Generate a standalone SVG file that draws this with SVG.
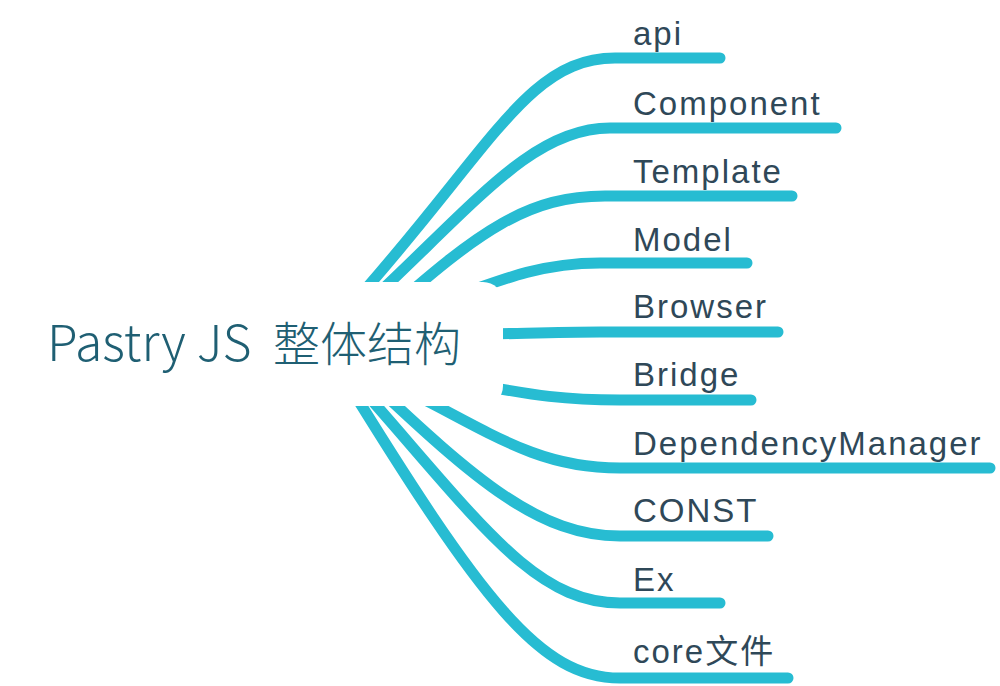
<svg xmlns="http://www.w3.org/2000/svg" width="1000" height="686" viewBox="0 0 1000 686">
<style>
.br{fill:none;stroke:#27bcd2;stroke-width:11;stroke-linecap:round;stroke-linejoin:round}
.lbl{font-family:"Liberation Sans",Arial,"Noto Sans CJK SC",sans-serif;font-size:33px;letter-spacing:2px;fill:#2f4858}
.root{font-family:"Noto Sans CJK SC","Noto Sans",sans-serif;font-size:47px;font-weight:300;fill:#1f5f73}
</style>
<rect width="1000" height="686" fill="#ffffff"/>
<g id="connectors">
<path class="br" d="M340,318 C490,153 525,58 615,58 L720,58"/>
<path class="br" d="M352,318 C472,208 530,128 610,128 L836,128"/>
<path class="br" d="M381,318 C481,228 530,196 605,196 L792,196"/>
<path class="br" d="M440,302 C500,280 540,263 600,263 L747,263"/>
<path class="br" d="M470,334.5 C540,333 560,332 600,332 L778,332"/>
<path class="br" d="M460,382 C520,392 550,400 620,400 L751,400"/>
<path class="br" d="M397,385 C497,437 540,468 620,468 L990,468"/>
<path class="br" d="M367,378 C477,482 540,536 620,536 L768,536"/>
<path class="br" d="M345,370 C475,515 530,603 620,603 L720,603"/>
<path class="br" d="M342,374 C482,601 540,678 620,678 L788,678"/>
</g>
<g id="root">
<rect x="20" y="282" width="483" height="124" rx="20" fill="#ffffff"/>
<text class="root" y="361"><tspan x="47" font-size="50">Pastry JS</tspan><tspan x="273">整体结构</tspan></text>
</g>
<g id="n-api"><text class="lbl" x="633" y="45">api</text></g>
<g id="n-component"><text class="lbl" x="633" y="115">Component</text></g>
<g id="n-template"><text class="lbl" x="633" y="183">Template</text></g>
<g id="n-model"><text class="lbl" x="633" y="251">Model</text></g>
<g id="n-browser"><text class="lbl" x="633" y="318">Browser</text></g>
<g id="n-bridge"><text class="lbl" x="633" y="386">Bridge</text></g>
<g id="n-dependencymanager"><text class="lbl" x="633" y="455">DependencyManager</text></g>
<g id="n-const"><text class="lbl" x="633" y="522">CONST</text></g>
<g id="n-ex"><text class="lbl" x="633" y="591">Ex</text></g>
<g id="n-core"><text class="lbl" x="633" y="663">core文件</text></g>
</svg>
